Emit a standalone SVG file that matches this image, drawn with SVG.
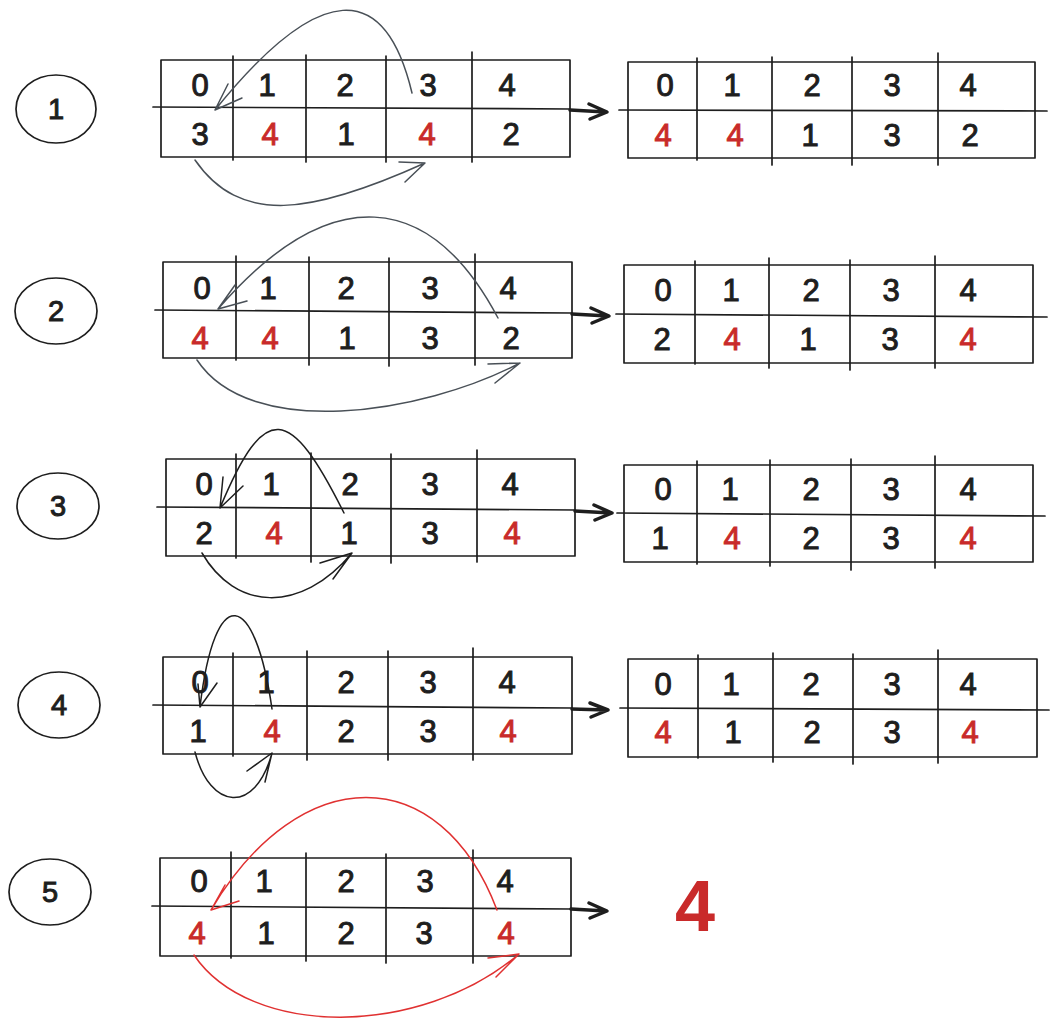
<svg xmlns="http://www.w3.org/2000/svg" width="1059" height="1027" viewBox="0 0 1059 1027">
<style>
.bg{fill:#ffffff}
.box{fill:none;stroke:#1e1e1e;stroke-width:1.7;stroke-linejoin:round}
.ln{fill:none;stroke:#1e1e1e;stroke-width:1.7;stroke-linecap:round}
.d{font-family:"Liberation Sans",Arial,sans-serif;font-size:31px;fill:#1e1e1e;stroke:#1e1e1e;stroke-width:1;text-anchor:middle;dominant-baseline:central}
.r{fill:#c92a2a;stroke:#c92a2a}
.ring{fill:none;stroke:#1e1e1e;stroke-width:1.7}
.cn{font-family:"Liberation Sans",Arial,sans-serif;font-size:29px;fill:#1e1e1e;stroke:#1e1e1e;stroke-width:1;text-anchor:middle;dominant-baseline:central}
.big{font-family:"Liberation Sans",Arial,sans-serif;font-size:72px;font-weight:bold;fill:#c92a2a;text-anchor:middle}
.main{fill:none;stroke:#1e1e1e;stroke-width:3.5;stroke-linecap:round;stroke-linejoin:round}
.gray{fill:none;stroke:#495057;stroke-width:1.5;stroke-linecap:round;stroke-linejoin:round}
.blk{fill:none;stroke:#1e1e1e;stroke-width:1.5;stroke-linecap:round;stroke-linejoin:round}
.red{fill:none;stroke:#e03131;stroke-width:1.5;stroke-linecap:round;stroke-linejoin:round}
</style>
<rect class="bg" x="0" y="0" width="1059" height="1027"/>

<!-- step circles -->
<g id="step1"><ellipse class="ring" cx="56" cy="109" rx="40" ry="34"/><text class="cn" x="56" y="109">1</text></g>
<g id="step2"><ellipse class="ring" cx="56" cy="311" rx="41" ry="33"/><text class="cn" x="56" y="311">2</text></g>
<g id="step3"><ellipse class="ring" cx="58" cy="506" rx="41" ry="33"/><text class="cn" x="58" y="506">3</text></g>
<g id="step4"><ellipse class="ring" cx="59" cy="705" rx="41" ry="33"/><text class="cn" x="59" y="705">4</text></g>
<g id="step5"><ellipse class="ring" cx="50" cy="892" rx="41" ry="33"/><text class="cn" x="50" y="892">5</text></g>

<!-- row 1 left table -->
<g id="t1a">
<rect class="box" x="161" y="60" width="409" height="97"/>
<path class="ln" d="M153 107 L570 109"/>
<path class="ln" d="M233 56 L233 160 M306 55 L306 162 M386 56 L386 162 M472 52 L472 162"/>
<text class="d" x="200" y="85">0</text><text class="d" x="267" y="85">1</text><text class="d" x="345" y="85">2</text><text class="d" x="428" y="85">3</text><text class="d" x="507" y="85">4</text>
<text class="d" x="200" y="134">3</text><text class="d r" x="270" y="134">4</text><text class="d" x="346" y="134">1</text><text class="d r" x="427" y="134">4</text><text class="d" x="511" y="134">2</text>
</g>
<!-- row 1 right table -->
<g id="t1b">
<rect class="box" x="628" y="62" width="407" height="96"/>
<path class="ln" d="M619 110 L1047 111"/>
<path class="ln" d="M697 58 L697 160 M772 57 L772 165 M852 57 L852 165 M938 53 L938 165"/>
<text class="d" x="665" y="85">0</text><text class="d" x="732" y="85">1</text><text class="d" x="812" y="85">2</text><text class="d" x="892" y="85">3</text><text class="d" x="968" y="85">4</text>
<text class="d r" x="663" y="135">4</text><text class="d r" x="735" y="135">4</text><text class="d" x="810" y="135">1</text><text class="d" x="892" y="135">3</text><text class="d" x="970" y="135">2</text>
</g>

<!-- row 2 left table -->
<g id="t2a">
<rect class="box" x="163" y="262" width="409" height="96"/>
<path class="ln" d="M155 310 L572 313"/>
<path class="ln" d="M236 256 L236 360 M309 257 L309 365 M389 258 L389 366 M475 254 L475 365"/>
<text class="d" x="202" y="288">0</text><text class="d" x="268" y="288">1</text><text class="d" x="346" y="288">2</text><text class="d" x="430" y="288">3</text><text class="d" x="508" y="288">4</text>
<text class="d r" x="200" y="338">4</text><text class="d r" x="270" y="338">4</text><text class="d" x="347" y="338">1</text><text class="d" x="430" y="338">3</text><text class="d" x="511" y="338">2</text>
</g>
<!-- row 2 right table -->
<g id="t2b">
<rect class="box" x="624" y="265" width="409" height="98"/>
<path class="ln" d="M616 314 L1047 317"/>
<path class="ln" d="M695 261 L695 364 M769 258 L769 368 M850 260 L850 370 M935 256 L935 368"/>
<text class="d" x="663" y="290">0</text><text class="d" x="731" y="290">1</text><text class="d" x="811" y="290">2</text><text class="d" x="891" y="290">3</text><text class="d" x="968" y="290">4</text>
<text class="d" x="662" y="339">2</text><text class="d r" x="732" y="339">4</text><text class="d" x="808" y="339">1</text><text class="d" x="890" y="339">3</text><text class="d r" x="968" y="339">4</text>
</g>

<!-- row 3 left table -->
<g id="t3a">
<rect class="box" x="166" y="459" width="409" height="97"/>
<path class="ln" d="M157 507 L575 510"/>
<path class="ln" d="M236 454 L236 558 M311 453 L311 562 M391 454 L391 563 M477 450 L477 562"/>
<text class="d" x="204" y="484">0</text><text class="d" x="271" y="484">1</text><text class="d" x="350" y="484">2</text><text class="d" x="430" y="484">3</text><text class="d" x="510" y="484">4</text>
<text class="d" x="204" y="533">2</text><text class="d r" x="274" y="533">4</text><text class="d" x="349" y="533">1</text><text class="d" x="430" y="533">3</text><text class="d r" x="512" y="533">4</text>
</g>
<!-- row 3 right table -->
<g id="t3b">
<rect class="box" x="624" y="465" width="409" height="97"/>
<path class="ln" d="M617 513 L1045 516"/>
<path class="ln" d="M697 461 L697 564 M770 460 L770 566 M851 459 L851 570 M935 456 L935 568"/>
<text class="d" x="663" y="489">0</text><text class="d" x="730" y="489">1</text><text class="d" x="811" y="489">2</text><text class="d" x="891" y="489">3</text><text class="d" x="968" y="489">4</text>
<text class="d" x="660" y="538">1</text><text class="d r" x="732" y="538">4</text><text class="d" x="811" y="538">2</text><text class="d" x="891" y="538">3</text><text class="d r" x="968" y="538">4</text>
</g>

<!-- row 4 left table -->
<g id="t4a">
<rect class="box" x="163" y="657" width="409" height="97"/>
<path class="ln" d="M153 705 L572 708"/>
<path class="ln" d="M233 653 L233 756 M307 651 L307 760 M388 651 L388 760 M473 648 L473 760"/>
<text class="d" x="200" y="682">0</text><text class="d" x="266" y="682">1</text><text class="d" x="346" y="682">2</text><text class="d" x="428" y="682">3</text><text class="d" x="507" y="682">4</text>
<text class="d" x="198" y="731">1</text><text class="d r" x="272" y="731">4</text><text class="d" x="346" y="731">2</text><text class="d" x="428" y="731">3</text><text class="d r" x="508" y="731">4</text>
</g>
<!-- row 4 right table -->
<g id="t4b">
<rect class="box" x="628" y="659" width="409" height="98"/>
<path class="ln" d="M620 708 L1049 710"/>
<path class="ln" d="M698 655 L698 758 M773 653 L773 762 M853 654 L853 764 M938 650 L938 763"/>
<text class="d" x="663" y="684">0</text><text class="d" x="731" y="684">1</text><text class="d" x="811" y="684">2</text><text class="d" x="892" y="684">3</text><text class="d" x="968" y="684">4</text>
<text class="d r" x="663" y="732">4</text><text class="d" x="733" y="732">1</text><text class="d" x="812" y="732">2</text><text class="d" x="892" y="732">3</text><text class="d r" x="970" y="732">4</text>
</g>

<!-- row 5 left table -->
<g id="t5a">
<rect class="box" x="160" y="858" width="411" height="98"/>
<path class="ln" d="M152 906 L571 909"/>
<path class="ln" d="M231 852 L231 958 M306 853 L306 961 M386 854 L386 963 M473 850 L473 963"/>
<text class="d" x="199" y="881">0</text><text class="d" x="264" y="881">1</text><text class="d" x="346" y="881">2</text><text class="d" x="425" y="881">3</text><text class="d" x="505" y="881">4</text>
<text class="d r" x="197" y="933">4</text><text class="d" x="266" y="933">1</text><text class="d" x="346" y="933">2</text><text class="d" x="424" y="933">3</text><text class="d r" x="506" y="933">4</text>
</g>
<!-- result -->
<g id="result"><text class="big" x="695" y="931">4</text></g>

<!-- connectors -->
<g id="connectors">
<!-- main arrows -->
<path class="main" d="M570 110 L606 112 M589 104 L607 112 L590 119"/>
<path class="main" d="M572 314 L608 316 M591 308 L609 316 L592 323"/>
<path class="main" d="M575 511 L611 513 M594 505 L612 513 L595 520"/>
<path class="main" d="M572 709 L607 710 M590 703 L608 710 L591 717"/>
<path class="main" d="M571 909 L606 911 M589 903 L607 911 L590 918"/>

<!-- row 1 -->
<path class="gray" d="M412 93 C385 -20 320 -20 215 110 M228 84 L215 110 L242 98"/>
<path class="gray" d="M195 160 C240 225 310 215 425 163 M399 162 L425 163 L405 182"/>
<!-- row 2 -->
<path class="gray" d="M498 318 C430 190 330 180 218 309 M235 285 L218 309 L247 301"/>
<path class="gray" d="M197 360 C250 440 420 415 520 363 M488 364 L520 363 L495 383"/>
<!-- row 3 -->
<path class="blk" d="M344 513 C290 405 265 400 220 508 M223 477 L220 508 L243 486"/>
<path class="blk" d="M202 553 C235 610 300 615 352 553 M320 563 L352 553 L333 579"/>
<!-- row 4 -->
<path class="blk" d="M272 709 C255 590 215 580 200 707 M198 684 L200 707 L217 683"/>
<path class="blk" d="M195 752 C210 810 255 815 272 753 M247 771 L272 753 L265 782"/>
<!-- row 5 -->
<path class="red" d="M497 910 C440 760 300 760 211 910 M225 885 L211 910 L239 901"/>
<path class="red" d="M194 955 C250 1038 420 1038 519 954 M488 958 L519 954 L496 977"/>
</g>
</svg>
